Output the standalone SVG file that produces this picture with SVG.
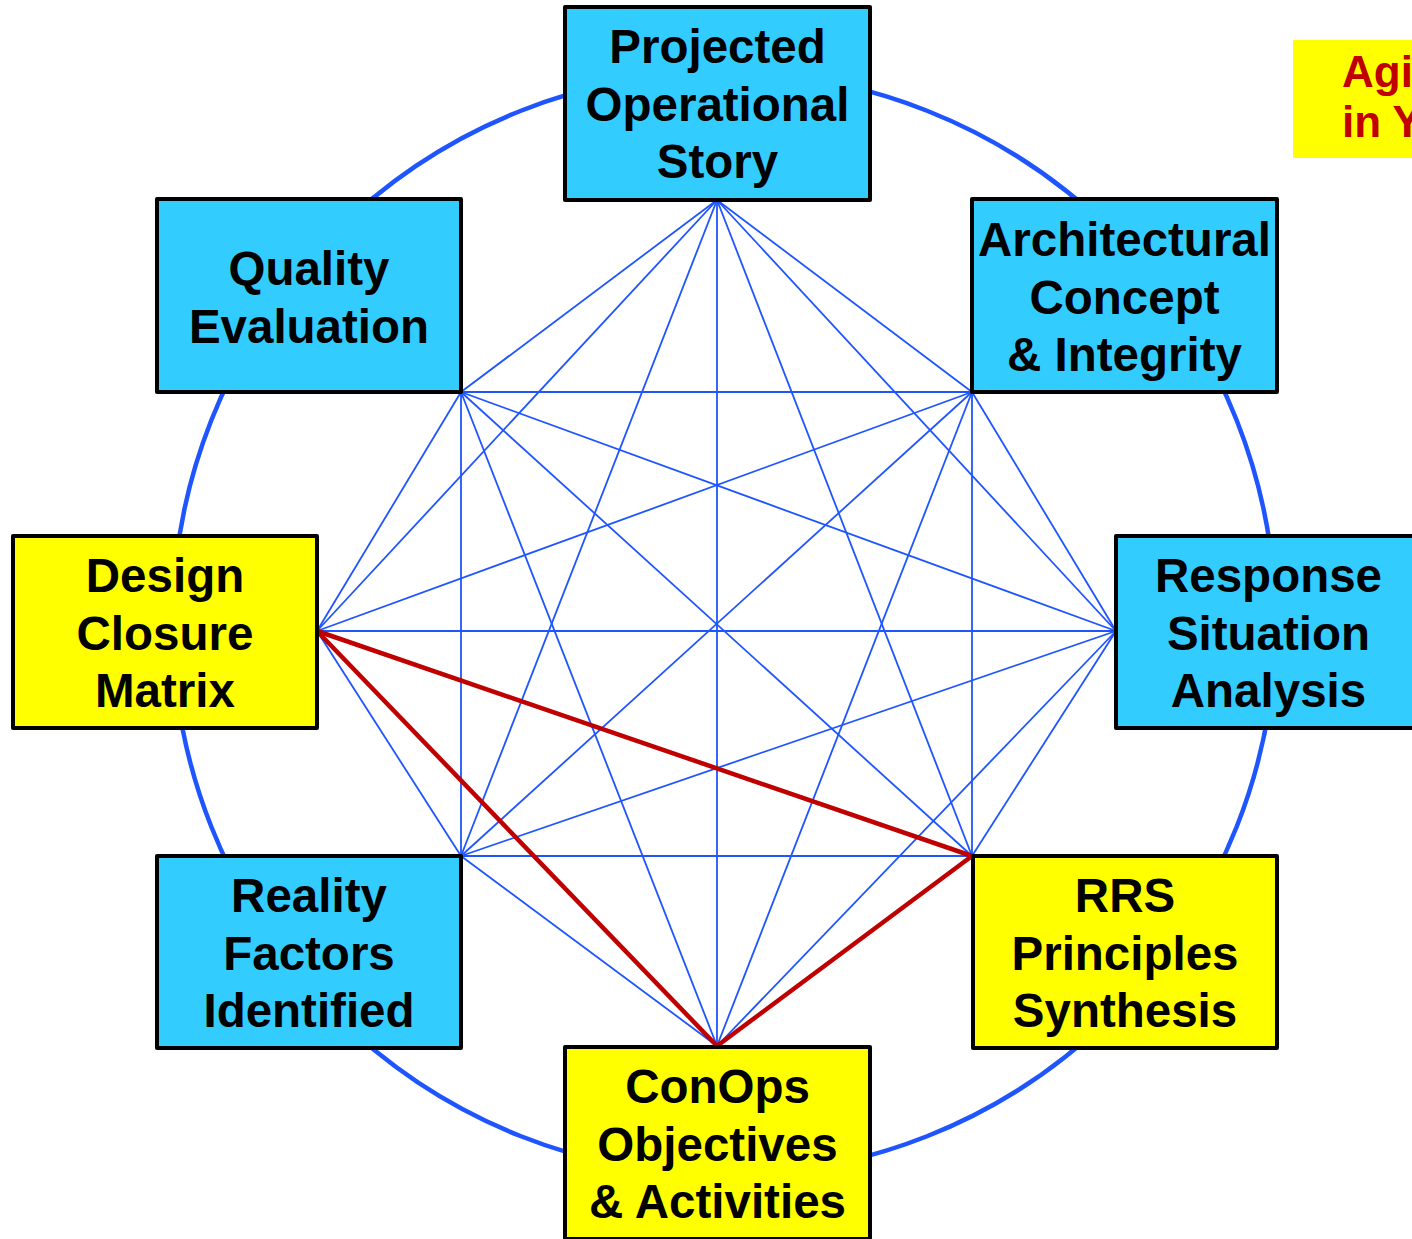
<svg xmlns="http://www.w3.org/2000/svg" width="1412" height="1239" viewBox="0 0 1412 1239">
<style>
.bx{stroke:#000;stroke-width:4;stroke-linejoin:round}
.cy{fill:#33CCFF}
.ye{fill:#FFFF00}
.t{font-family:"Liberation Sans",Arial,sans-serif;font-weight:bold;font-size:47.5px;fill:#000;text-anchor:middle}
.bl{stroke:#1F55FF;stroke-width:1.8;fill:none}
.rd{stroke:#C00000;stroke-width:4.5;fill:none}
</style>
<rect width="1412" height="1239" fill="#fff"/>
<circle cx="724" cy="623.5" r="551.5" fill="none" stroke="#1F55FF" stroke-width="4.5"/>
<g id="connectors">
<g class="bl">
<line x1="717" y1="200" x2="972" y2="392"/>
<line x1="717" y1="200" x2="1116" y2="631"/>
<line x1="717" y1="200" x2="972" y2="856"/>
<line x1="717" y1="200" x2="717" y2="1046"/>
<line x1="717" y1="200" x2="461" y2="856"/>
<line x1="717" y1="200" x2="317" y2="631"/>
<line x1="717" y1="200" x2="461" y2="392"/>
<line x1="972" y1="392" x2="1116" y2="631"/>
<line x1="972" y1="392" x2="972" y2="856"/>
<line x1="972" y1="392" x2="717" y2="1046"/>
<line x1="972" y1="392" x2="461" y2="856"/>
<line x1="972" y1="392" x2="317" y2="631"/>
<line x1="972" y1="392" x2="461" y2="392"/>
<line x1="1116" y1="631" x2="972" y2="856"/>
<line x1="1116" y1="631" x2="717" y2="1046"/>
<line x1="1116" y1="631" x2="461" y2="856"/>
<line x1="1116" y1="631" x2="317" y2="631"/>
<line x1="1116" y1="631" x2="461" y2="392"/>
<line x1="972" y1="856" x2="461" y2="856"/>
<line x1="972" y1="856" x2="461" y2="392"/>
<line x1="717" y1="1046" x2="461" y2="856"/>
<line x1="717" y1="1046" x2="461" y2="392"/>
<line x1="461" y1="856" x2="317" y2="631"/>
<line x1="461" y1="856" x2="461" y2="392"/>
<line x1="317" y1="631" x2="461" y2="392"/>
</g>
<g class="rd">
<line x1="317" y1="631" x2="972" y2="856"/>
<line x1="317" y1="631" x2="717" y2="1046"/>
<line x1="717" y1="1046" x2="972" y2="856"/>
</g>
</g>
<g id="n-projected">
<rect class="bx cy" x="565" y="7" width="305" height="193"/>
<text class="t" x="717.5" y="63">Projected</text>
<text class="t" x="717.5" y="121">Operational</text>
<text class="t" x="717.5" y="178">Story</text>
</g>
<g id="n-quality">
<rect class="bx cy" x="157" y="199" width="304" height="193"/>
<text class="t" x="309" y="285">Quality</text>
<text class="t" x="309" y="343">Evaluation</text>
</g>
<g id="n-architectural">
<rect class="bx cy" x="972" y="199" width="305" height="193"/>
<text class="t" x="1124.5" y="256">Architectural</text>
<text class="t" x="1124.5" y="314">Concept</text>
<text class="t" x="1124.5" y="371">&amp; Integrity</text>
</g>
<g id="n-design">
<rect class="bx ye" x="13" y="536" width="304" height="192"/>
<text class="t" x="165" y="592">Design</text>
<text class="t" x="165" y="650">Closure</text>
<text class="t" x="165" y="707">Matrix</text>
</g>
<g id="n-response">
<rect class="bx cy" x="1116" y="536" width="305" height="192"/>
<text class="t" x="1268.5" y="592">Response</text>
<text class="t" x="1268.5" y="650">Situation</text>
<text class="t" x="1268.5" y="707">Analysis</text>
</g>
<g id="n-reality">
<rect class="bx cy" x="157" y="856" width="304" height="192"/>
<text class="t" x="309" y="912">Reality</text>
<text class="t" x="309" y="970">Factors</text>
<text class="t" x="309" y="1027">Identified</text>
</g>
<g id="n-rrs">
<rect class="bx ye" x="973" y="856" width="304" height="192"/>
<text class="t" x="1125" y="912">RRS</text>
<text class="t" x="1125" y="970">Principles</text>
<text class="t" x="1125" y="1027">Synthesis</text>
</g>
<g id="n-conops">
<rect class="bx ye" x="565" y="1047" width="305" height="192"/>
<text class="t" x="717.5" y="1103">ConOps</text>
<text class="t" x="717.5" y="1161">Objectives</text>
<text class="t" x="717.5" y="1218">&amp; Activities</text>
</g>
<g id="n-title">
<rect x="1293" y="40" width="130" height="118" fill="#FFFF00"/>
<text x="1342" y="87" font-family="'Liberation Sans',Arial,sans-serif" font-weight="bold" font-size="44" fill="#C00000">Agi</text>
<text x="1342" y="137" font-family="'Liberation Sans',Arial,sans-serif" font-weight="bold" font-size="44" fill="#C00000">in Y</text>
</g>
</svg>
